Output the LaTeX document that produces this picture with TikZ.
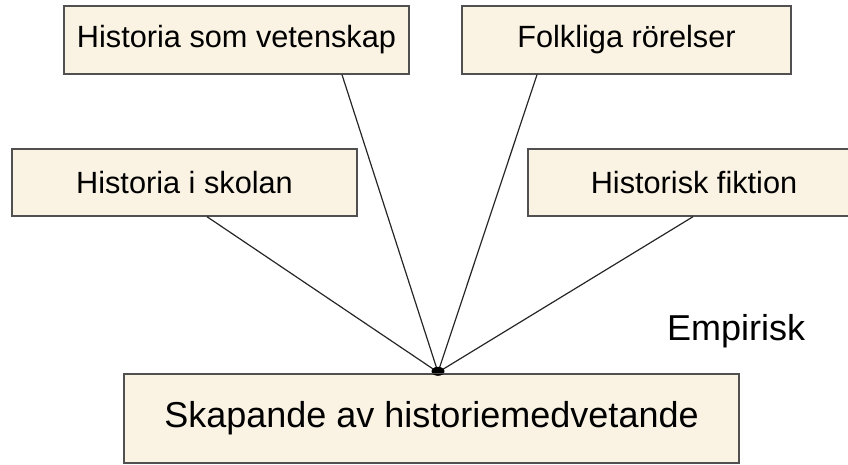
\documentclass[tikz,border=0pt]{standalone}
\usepackage{fontspec}
\setmainfont{Liberation Sans}
\definecolor{boxfill}{HTML}{FAF3E3}
\definecolor{boxdraw}{HTML}{505050}
\begin{document}
\begin{tikzpicture}[x=1pt,y=1pt,
  topic/.style={draw=boxdraw, line width=1.4pt, fill=boxfill, inner sep=0pt,
    anchor=center, font=\fontsize{30.7}{36}\selectfont},
  link/.style={draw=black!85, line width=1.2pt},
  bigtext/.style={font=\fontsize{36}{42}\selectfont}]
\useasboundingbox (0,0) rectangle (848,464);
\node[topic, minimum width=345, minimum height=68] (A) at (236.5,424) {Historia som vetenskap};
\node[topic, minimum width=329, minimum height=68] (B) at (626.5,424) {Folkliga rörelser};
\node[topic, minimum width=345, minimum height=67] (C) at (184.5,281.5) {Historia i skolan};
\node[topic, minimum width=332, minimum height=67] (D) at (694,281.5) {Historisk fiktion};
\node[topic, bigtext, minimum width=615, minimum height=89] (E) at (431.5,45.5) {Skapande av historiemedvetande};
\node[bigtext, anchor=base west, inner sep=0pt] (F) at (667,124) {Empirisk};
\coordinate (m) at ([xshift=6.5,yshift=1]E.north);
\draw[link] ([xshift=105.5]A.south) -- (m);
\draw[link] ([xshift=-89.5]B.south) -- (m);
\draw[link] ([xshift=22.5]C.south) -- (m);
\draw[link] ([xshift=-1]D.south) -- (m);
\fill[black] ([yshift=1]m) ellipse [x radius=6.5, y radius=4.5];
\draw[boxdraw, line width=1.4pt] (E.north west) -- (E.north east);
\end{tikzpicture}
\end{document}
